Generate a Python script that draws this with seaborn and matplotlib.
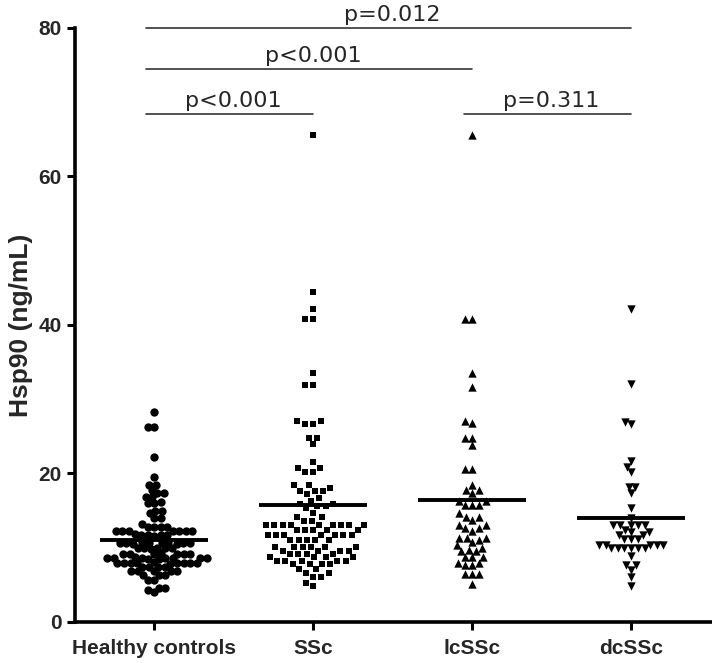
import numpy as np
import pandas as pd
import matplotlib.pyplot as plt
import seaborn as sns

# Hsp90 serum levels (ng/mL)
groups = ['Healthy controls', 'SSc', 'lcSSc', 'dcSSc']
healthy = [28.3, 26.2, 26.2, 22.2, 19.5, 18.5, 18.5, 17.8, 17.3, 17.3, 16.8, 16.8,
           16.2, 16.0, 16.0, 15.0, 15.0, 14.6, 14.0, 14.0, 13.2,
           12.8, 12.8, 12.8, 12.8,
           12.2, 12.2, 12.2, 12.2, 12.2, 12.2, 12.2,
           11.6, 11.7, 11.7, 11.7, 11.8, 11.7,
           10.6, 10.5, 10.6, 10.6, 10.7, 10.6, 10.6, 10.5, 10.6, 10.7,
           9.9, 9.9, 9.8, 9.9, 9.9, 10.0,
           9.2, 9.2, 9.1, 9.2, 9.2, 9.3, 9.2,
           8.6, 8.6, 8.5, 8.6, 8.6, 8.7, 8.6, 8.6, 8.5, 8.6,
           7.9, 7.9, 7.9, 7.8, 7.9, 7.9, 8.0, 7.9, 7.9, 7.9,
           7.4, 7.4, 7.4, 7.4,
           6.8, 6.8, 6.8, 6.8, 6.8,
           6.3, 6.3, 6.3, 5.7, 5.7, 4.6, 4.6, 4.3, 4.0]
ssc = [65.6, 44.4, 42.2, 40.8, 40.8, 33.5, 31.9, 31.9, 27.0, 27.0, 26.6, 26.6,
       24.8, 24.8, 23.9, 21.6, 20.7, 20.7, 20.2, 20.2,
       18.4, 18.4, 18.0, 17.6, 17.6, 17.6, 17.2, 16.7, 16.3,
       15.9, 15.9, 15.6, 15.6, 15.3, 14.7, 14.1, 14.1, 13.6, 13.6,
       13.1, 13.1, 13.1, 13.1, 13.1, 13.1, 13.1, 13.1, 13.1,
       12.4, 12.4, 12.4, 12.4, 12.4,
       11.7, 11.7, 11.7, 11.7, 11.7, 11.7, 11.7,
       11.0, 11.0, 11.0, 11.0, 11.0,
       10.1, 10.1, 10.1, 10.1, 10.1, 10.1,
       9.6, 9.6, 9.6, 9.6, 9.2, 9.2, 9.2, 9.2, 8.7, 8.7, 8.7, 8.7,
       8.2, 8.2, 8.2, 8.2, 8.2, 7.8, 7.8, 7.8, 7.8,
       7.1, 7.1, 6.6, 6.6, 6.1, 6.1, 5.3, 4.8]
lcssc = [65.6, 40.8, 40.8, 33.5, 31.7, 27.0, 26.8, 24.8, 24.8, 23.8, 20.6, 20.6,
         18.4, 17.7, 17.7, 17.3, 16.3, 16.3, 15.8, 15.8, 15.8, 14.6, 14.1, 14.1,
         13.7, 13.0, 13.0, 12.6, 12.6, 12.3, 11.3, 11.3, 11.3, 11.0, 10.7, 10.3,
         10.0, 9.7, 9.5, 9.5, 8.7, 8.7, 8.7, 7.9, 7.9, 7.6, 7.6, 6.4, 6.4, 6.4, 5.1]
dcssc = [42.2, 32.1, 26.9, 26.6, 21.7, 20.9, 20.2, 18.1, 18.1, 17.3, 15.3, 14.0,
         13.0, 13.0, 13.0, 13.0, 13.0, 12.4, 12.1, 12.1, 11.7, 11.7,
         11.2, 11.2, 11.2, 10.4, 10.4, 10.4, 10.4, 10.4,
         9.9, 9.9, 9.9, 9.9, 9.9, 9.9, 8.9, 7.6, 7.6, 7.0, 6.0, 4.8]
means = [11.0, 15.7, 16.4, 14.0]
markers = ['o', 's', '^', 'v']
layout_sizes = [4.5, 5.6, 5.0, 4.6]   # spacing used by the swarm
marker_sizes = [6.0, 4.8, 6.0, 6.0]   # size actually drawn (GraphPad lets points touch)

# significance brackets: (from, to, height, label)
bracket_from = [0, 0, 0, 2]
bracket_to = [1, 2, 3, 3]
bracket_y = [68.4, 74.4, 80.0, 68.4]
bracket_labels = ['p<0.001', 'p<0.001', 'p=0.012', 'p=0.311']

values = [healthy, ssc, lcssc, dcssc]
df = pd.concat([pd.DataFrame({'group': g, 'Hsp90': v}) for g, v in zip(groups, values)],
               ignore_index=True)

sns.set_style('ticks')
plt.rcParams['font.family'] = ['Liberation Sans', 'DejaVu Sans']

fig = plt.figure(figsize=(7.12, 6.63), dpi=100)
ax = fig.add_axes([0.105, 0.062, 0.893, 0.896])

swarms = []
for g, m, s, ds in zip(groups, markers, layout_sizes, marker_sizes):
    before = list(ax.collections)
    sns.swarmplot(data=df[df['group'] == g], x='group', y='Hsp90', order=groups,
                  marker=m, color='black', size=s, linewidth=0, ax=ax, warn_thresh=1)
    for coll in ax.collections:
        if coll not in before:
            swarms.append((coll, ds))

ax.set_ylim(0, 80)
ax.set_xlim(-0.5, 3.5)

# lay the swarms out once, then freeze positions and draw bigger markers
fig.canvas.draw()
for coll, ds in swarms:
    coll.__dict__.pop('draw', None)
    coll.set_sizes([ds ** 2])

ax.hlines(means, np.arange(len(groups)) - 0.34, np.arange(len(groups)) + 0.34,
          colors='black', linewidth=2.8, zorder=5)

for x0, x1, y, lab in zip(bracket_from, bracket_to, bracket_y, bracket_labels):
    ax.plot([x0 - 0.05, x1], [y, y], color='#333333', linewidth=1.2, clip_on=False)
    ax.text((x0 + x1) / 2, y + 0.4, lab, ha='center', va='bottom', fontsize=16,
            family='DejaVu Sans', clip_on=False)

ax.set_yticks([0, 20, 40, 60, 80])
ax.set_xlabel('')
ax.set_ylabel('Hsp90 (ng/mL)', fontsize=19, fontweight='bold', labelpad=4)
ax.tick_params(axis='both', width=2.2, length=6, labelsize=15, color='black')
ax.tick_params(axis='x', pad=6)
for lab in ax.get_xticklabels() + ax.get_yticklabels():
    lab.set_fontweight('bold')
for side in ['left', 'bottom']:
    ax.spines[side].set_linewidth(2.6)
    ax.spines[side].set_color('black')
sns.despine(ax=ax)

fig.savefig('out.png', dpi=100)
